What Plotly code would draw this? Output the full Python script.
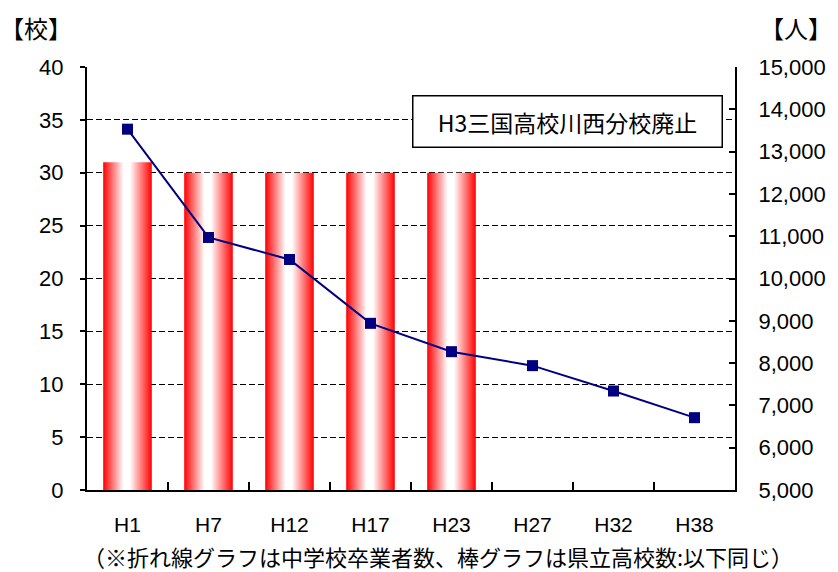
import plotly.graph_objects as go

# 年度ラベル
years = ["H1", "H7", "H12", "H17", "H23", "H27", "H32", "H38"]
# 県立高校数（棒グラフ, 左軸）
schools = [31, 30, 30, 30, 30]
# 中学校卒業者数（折れ線グラフ, 右軸）
graduates = [13530, 10970, 10450, 8940, 8270, 7940, 7340, 6710]

BAR_WIDTH = 0.6
JP_FONT = "Noto Sans CJK JP"
NUM_FONT = "Liberation Sans, Arial, sans-serif"

fig = go.Figure()

# 棒グラフ: 左右が赤、中央が白の横方向グラデーション
bar_gradient = dict(
    type="horizontal",
    colorscale=[[0.0, "#ff0000"], [0.42, "#ffffff"], [0.55, "#ffffff"], [1.0, "#ff0000"]],
)
for i, v in enumerate(schools):
    x0, x1 = i - BAR_WIDTH / 2, i + BAR_WIDTH / 2
    fig.add_trace(go.Scatter(
        x=[x0, x1, x1, x0, x0],
        y=[0, 0, v, v, 0],
        mode="none",
        fill="toself",
        fillgradient=bar_gradient,
        hoverinfo="skip",
        showlegend=False,
        yaxis="y",
    ))

# 折れ線グラフ
fig.add_trace(go.Scatter(
    x=list(range(len(years))),
    y=graduates,
    mode="lines+markers",
    line=dict(color="#000080", width=2),
    marker=dict(symbol="square", size=11, color="#000080"),
    showlegend=False,
    yaxis="y2",
))

fig.update_layout(
    width=838,
    height=572,
    margin=dict(l=87, r=97, t=67, b=82),
    paper_bgcolor="white",
    plot_bgcolor="white",
    font=dict(family=NUM_FONT, size=22, color="black"),
    xaxis=dict(
        range=[-0.5, len(years) - 0.5],
        tickvals=list(range(len(years))),
        ticktext=years,
        ticks="",
        showgrid=False,
        zeroline=False,
        showline=True,
        linecolor="black",
        linewidth=2,
        ticklabelstandoff=15,
        tickfont=dict(family=NUM_FONT, size=21),
        minor=dict(
            tickvals=[i + 0.5 for i in range(len(years) - 1)],
            ticks="inside",
            ticklen=8,
            tickwidth=2,
            tickcolor="black",
            showgrid=False,
        ),
        fixedrange=True,
    ),
    yaxis=dict(
        range=[0, 40],
        dtick=5,
        ticks="outside",
        ticklen=5,
        tickwidth=1.5,
        tickcolor="black",
        showgrid=True,
        gridcolor="black",
        gridwidth=1,
        griddash="6px,3px",
        zeroline=False,
        showline=True,
        linecolor="black",
        linewidth=2,
        ticklabelstandoff=12,
        tickfont=dict(family=NUM_FONT, size=22),
        fixedrange=True,
    ),
    yaxis2=dict(
        range=[5000, 15000],
        dtick=1000,
        tickformat=",d",
        overlaying="y",
        side="right",
        ticks="inside",
        ticklen=6,
        tickwidth=1.5,
        tickcolor="black",
        showgrid=False,
        zeroline=False,
        showline=True,
        linecolor="black",
        linewidth=2,
        ticklabelstandoff=17,
        tickfont=dict(family=NUM_FONT, size=22),
        fixedrange=True,
    ),
    annotations=[
        dict(
            text="【校】", xref="paper", yref="paper",
            x=-0.137, y=1.0, yshift=40, xanchor="left", yanchor="middle",
            showarrow=False, font=dict(family=JP_FONT, size=24),
        ),
        dict(
            text="【人】", xref="paper", yref="paper",
            x=1.0, xshift=99, y=1.0, yshift=40, xanchor="right", yanchor="middle",
            showarrow=False, font=dict(family=JP_FONT, size=24),
        ),
        dict(
            text="H3三国高校川西分校廃止", xref="paper", yref="paper",
            x=(572 - 87) / 654, y=(490 - 122) / 423, xanchor="center", yanchor="middle",
            showarrow=False, font=dict(family=JP_FONT, size=23),
            bgcolor="white", bordercolor="black", borderwidth=1.5, borderpad=0,
            width=308, height=50,
        ),
        dict(
            text="（※折れ線グラフは中学校卒業者数、棒グラフは県立高校数:以下同じ）",
            xref="paper", yref="paper",
            x=(441 - 87) / 654, y=0, yshift=-66, xanchor="center", yanchor="middle",
            showarrow=False, font=dict(family=JP_FONT, size=22),
            borderpad=0,
        ),
    ],
)

fig.write_html("out.html")
